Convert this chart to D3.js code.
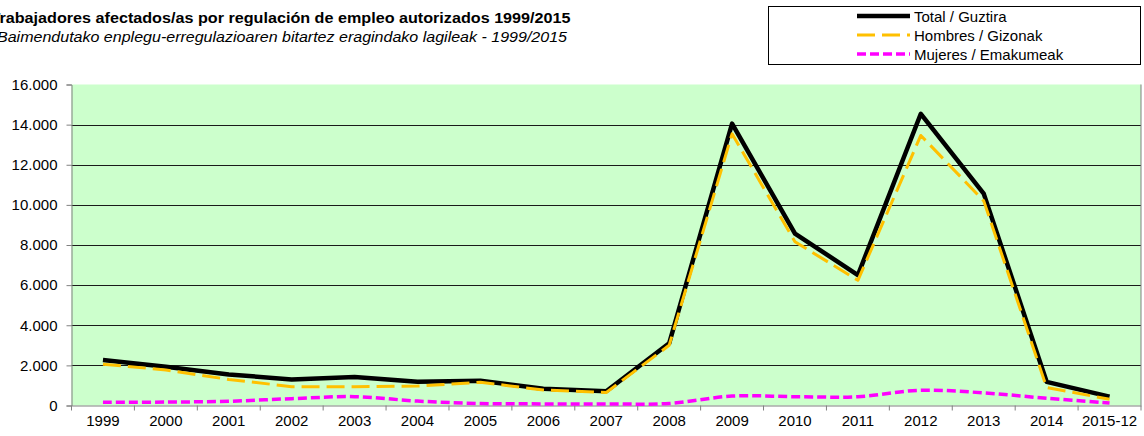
<!DOCTYPE html>
<html>
<head>
<meta charset="utf-8">
<script src="https://cdn.jsdelivr.net/npm/d3@7"></script>
<style>
  body { margin: 0; background: #fff; }
  svg { display: block; font-family: "Liberation Sans", Arial, sans-serif; }
</style>
</head>
<body>
<div id="chart"></div>
<script>
// Chart data
const years = ["1999", "2000", "2001", "2002", "2003", "2004", "2005", "2006", "2007",
    "2008", "2009", "2010", "2011", "2012", "2013", "2014", "2015-12"];
const total = [2270, 1930, 1550, 1300, 1420, 1180, 1230, 840, 710,
    3100, 14050, 8570, 6500, 14540, 10560, 1180, 440];
const hombres = [2060, 1770, 1300, 940, 940, 970, 1160, 770, 650,
    3000, 13540, 8160, 6240, 13460, 10200, 900, 310];
const mujeres = [160, 170, 210, 340, 440, 220, 100, 80, 80,
    100, 470, 440, 440, 760, 630, 360, 120];
const yTicks = [0, 2000, 4000, 6000, 8000, 10000, 12000, 14000, 16000];

const title = "Trabajadores afectados/as por regulación de empleo autorizados 1999/2015";
const subtitle = "Baimendutako enplegu-erregulazioaren bitartez eragindako lagileak - 1999/2015";

const series = [
    { name: "Total / Guztira", values: total, color: "#000000", width: 4.5, dash: null, curve: d3.curveLinear },
    { name: "Hombres / Gizonak", values: hombres, color: "#FFC000", width: 3, dash: "18,7", curve: d3.curveLinear },
    { name: "Mujeres / Emakumeak", values: mujeres, color: "#FF00FF", width: 3.5, dash: "9,4", curve: d3.curveCardinal.tension(0) }
];

const width = 1144, height = 436;
const plot = { left: 71.5, right: 1141, top: 84.5, bottom: 405.5 };
const fontSize = 15;

const svg = d3.select("#chart")
    .append("svg")
    .attr("width", width)
    .attr("height", height);

// Titles (left edge is cut off in the original)
svg.append("text")
    .attr("x", -9.5).attr("y", 22.5)
    .attr("font-size", fontSize).attr("font-weight", "bold")
    .attr("textLength", 580).attr("lengthAdjust", "spacingAndGlyphs")
    .text(title);
svg.append("text")
    .attr("x", -3).attr("y", 42)
    .attr("font-size", fontSize).attr("font-style", "italic")
    .attr("textLength", 570).attr("lengthAdjust", "spacingAndGlyphs")
    .text(subtitle);

const x = d3.scaleBand()
    .domain(years)
    .range([plot.left, plot.right]);
const y = d3.scaleLinear()
    .domain([0, 16000])
    .range([plot.bottom, plot.top]);

const locale = d3.formatLocale({ decimal: ",", thousands: ".", grouping: [3], currency: ["", "€"] });
const fmt = locale.format(",d");

// Plot background
svg.append("rect")
    .attr("x", plot.left).attr("y", plot.top)
    .attr("width", plot.right - plot.left).attr("height", plot.bottom - plot.top)
    .attr("fill", "#CCFFCC");

// Gridlines
svg.append("g")
    .selectAll("line")
    .data(yTicks.filter(d => d > 0 && d < 16000))
    .enter()
    .append("line")
    .attr("x1", plot.left).attr("x2", plot.right)
    .attr("y1", d => Math.round(y(d)) + 0.5).attr("y2", d => Math.round(y(d)) + 0.5)
    .attr("stroke", "#1a1a1a").attr("stroke-width", 1);

// Right border
svg.append("line")
    .attr("x1", plot.right).attr("x2", plot.right)
    .attr("y1", plot.top).attr("y2", plot.bottom)
    .attr("stroke", "#808080");

// Y axis
const yAxis = svg.append("g")
    .attr("transform", "translate(" + plot.left + ",0)")
    .call(d3.axisLeft(y).tickValues(yTicks).tickFormat(fmt).tickSize(5).tickPadding(9));
yAxis.select(".domain").attr("stroke", "#808080");
yAxis.selectAll(".tick line").attr("stroke", "#808080");
yAxis.selectAll("text").attr("font-size", fontSize).attr("fill", "#000")
    .attr("font-family", "Liberation Sans, Arial, sans-serif");

// X axis
const xAxis = svg.append("g")
    .attr("transform", "translate(0," + plot.bottom + ")")
    .call(d3.axisBottom(x).tickSize(0).tickPadding(9.5));
xAxis.select(".domain").attr("stroke", "#808080");
xAxis.selectAll("text").attr("font-size", fontSize).attr("fill", "#000")
    .attr("font-family", "Liberation Sans, Arial, sans-serif");
xAxis.selectAll(".sep")
    .data(years.concat(["end"]))
    .enter()
    .append("line")
    .attr("class", "sep")
    .attr("x1", (d, i) => i < years.length ? x(d) : plot.right)
    .attr("x2", (d, i) => i < years.length ? x(d) : plot.right)
    .attr("y1", 0).attr("y2", 5)
    .attr("stroke", "#808080");

// Lines
const cx = d => x(d) + x.bandwidth() / 2;
series.forEach(s => {
    const line = d3.line()
        .x((d, i) => cx(years[i]))
        .y(d => y(d))
        .curve(s.curve);
    svg.append("path")
        .datum(s.values)
        .attr("fill", "none")
        .attr("stroke", s.color)
        .attr("stroke-width", s.width)
        .attr("stroke-linejoin", "round")
        .attr("stroke-dasharray", s.dash)
        .attr("d", line);
});

// Legend
const legend = svg.append("g");
legend.append("rect")
    .attr("x", 768.5).attr("y", 6.5)
    .attr("width", 372).attr("height", 58)
    .attr("fill", "#fff").attr("stroke", "#000");
series.forEach((s, i) => {
    const ly = 16 + i * 19;
    legend.append("line")
        .attr("x1", 857).attr("x2", 910)
        .attr("y1", ly).attr("y2", ly)
        .attr("stroke", s.color)
        .attr("stroke-width", s.width)
        .attr("stroke-dasharray", s.dash);
    legend.append("text")
        .attr("x", 914).attr("y", ly + 5.5)
        .attr("font-size", fontSize)
        .text(s.name);
});
</script>
</body>
</html>
